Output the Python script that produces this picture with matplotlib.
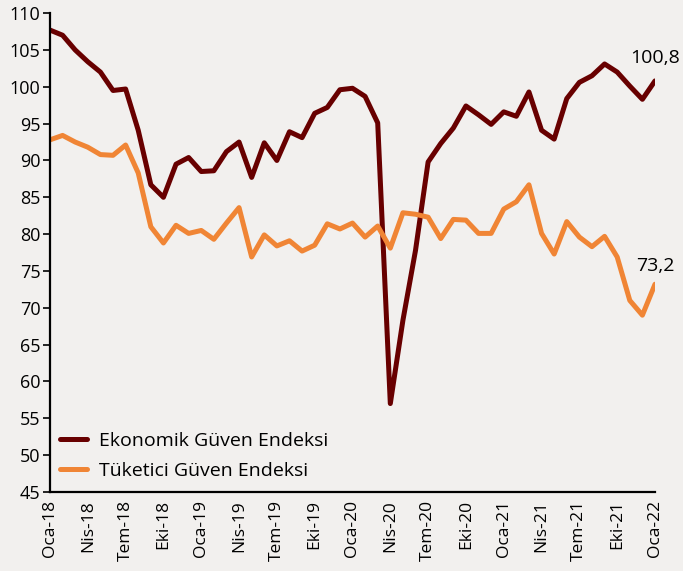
import matplotlib.pyplot as plt

# Aylık veriler: Oca-18 .. Oca-22
ekonomik = [107.7, 107.0, 105.0, 103.4, 102.0, 99.5, 99.7, 94.1, 86.7, 85.0,
            89.5, 90.4, 88.5, 88.6, 91.2, 92.5, 87.7, 92.4, 90.0, 93.9,
            93.1, 96.4, 97.2, 99.6, 99.8, 98.7, 95.1, 57.0, 68.3, 77.8,
            89.8, 92.3, 94.4, 97.4, 96.2, 94.9, 96.6, 96.0, 99.3, 94.1,
            92.9, 98.4, 100.6, 101.5, 103.1, 102.0, 100.1, 98.3, 100.8]
tuketici = [92.8, 93.4, 92.5, 91.8, 90.8, 90.7, 92.1, 88.3, 81.0, 78.8,
            81.2, 80.1, 80.5, 79.3, 81.5, 83.6, 76.9, 79.9, 78.4, 79.1,
            77.7, 78.5, 81.4, 80.7, 81.5, 79.6, 81.1, 78.1, 82.9, 82.7,
            82.3, 79.4, 82.0, 81.9, 80.1, 80.1, 83.4, 84.4, 86.7, 80.1,
            77.3, 81.7, 79.6, 78.3, 79.7, 76.9, 71.0, 69.0, 73.2]
aylar = ['Oca', 'Şub', 'Mar', 'Nis', 'May', 'Haz', 'Tem', 'Ağu', 'Eyl', 'Eki', 'Kas', 'Ara']
etiketler = [f'{aylar[i % 12]}-{18 + i // 12}' for i in range(len(ekonomik))]

BG = '#f2f0ee'
plt.rcParams['font.family'] = ['Open Sans', 'DejaVu Sans']

fig = plt.figure(figsize=(6.83, 5.71), dpi=100, facecolor=BG)
ax = fig.add_axes([0.0732, 0.1384, 0.8858, 0.8386], facecolor=BG)

x = list(range(len(ekonomik)))
ax.plot(x, ekonomik, color='#680000', lw=3.6, label='Ekonomik Güven Endeksi', solid_capstyle='round')
ax.plot(x, tuketici, color='#f08535', lw=3.6, label='Tüketici Güven Endeksi', solid_capstyle='round')

ax.set_xlim(0, 48)
ax.set_ylim(45, 110)
ax.set_yticks(range(45, 111, 5))
ax.set_xticks(x[::3])
ax.set_xticklabels(etiketler[::3], rotation=90)
ax.tick_params(axis='x', length=0, pad=6, labelsize=12.5)
ax.tick_params(axis='y', length=5, width=1.2, direction='out', labelsize=13, pad=2)

for s in ['top', 'right']:
    ax.spines[s].set_visible(False)
for s in ['left', 'bottom']:
    ax.spines[s].set_linewidth(1.6)
    ax.spines[s].set_color('black')

ax.annotate(f'{ekonomik[-1]:.1f}'.replace('.', ','), (48, ekonomik[-1]), xytext=(0, 10),
            textcoords='offset points', ha='center', va='bottom', fontsize=14, annotation_clip=False)
ax.annotate(f'{tuketici[-1]:.1f}'.replace('.', ','), (48, tuketici[-1]), xytext=(0, 7),
            textcoords='offset points', ha='center', va='bottom', fontsize=14, annotation_clip=False)

ax.legend(loc='lower left', bbox_to_anchor=(-0.012, -0.012), frameon=False, fontsize=14,
          handlelength=1.4, handletextpad=0.6, labelspacing=0.65)

fig.savefig('out.png', dpi=100, facecolor=BG)
